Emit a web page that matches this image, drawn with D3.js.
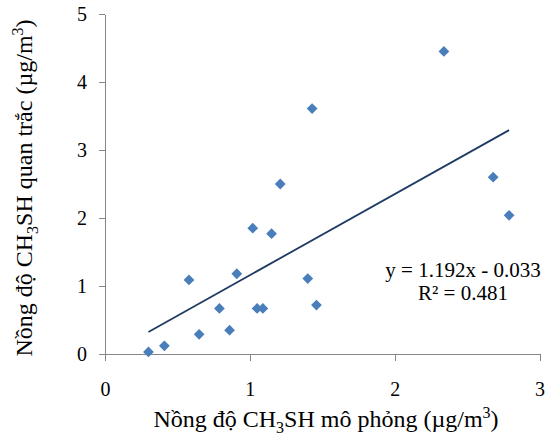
<!DOCTYPE html>
<meta charset="utf-8">
<style>
body { margin: 0; background: #fff; }
text { font-family: "Liberation Serif", "Times New Roman", serif; fill: #000; }
.axis path, .axis line { stroke: #868686; stroke-width: 1; shape-rendering: crispEdges; }
.point { fill: #4a7ebb; }
.trend { stroke: #1f3b64; stroke-width: 1.8; fill: none; }
</style>
<body>
<script src="https://cdn.jsdelivr.net/npm/d3@7"></script>
<script>
// simulated (x) vs observed (y) CH3SH concentration, ug/m3
var simulated = [0.30, 0.41, 0.65, 0.58, 0.79, 0.86, 0.91, 1.02, 1.05, 1.09, 1.15, 1.21, 1.40, 1.46, 2.79, 2.68, 1.43, 2.34];
var observed  = [0.03, 0.12, 0.29, 1.09, 0.67, 0.35, 1.18, 1.85, 0.67, 0.67, 1.77, 2.50, 1.11, 0.72, 2.04, 2.60, 3.61, 4.45];
var xTicks = [0, 1, 2, 3];
var yTicks = [0, 1, 2, 3, 4, 5];
var slope = 1.192, intercept = -0.033, r2 = 0.481;

var width = 545, height = 435;
var margin = {top: 14, right: 6, bottom: 81, left: 105};
var serif = '"Liberation Serif", "Times New Roman", serif';

var svg = d3.select("body").append("svg")
    .attr("width", width)
    .attr("height", height);

var x = d3.scaleLinear().domain([0, 3]).range([margin.left, 539.5]);
var y = d3.scaleLinear().domain([0, 5]).range([height - margin.bottom, margin.top]);

// y axis
svg.append("g")
    .attr("class", "axis")
    .attr("transform", "translate(" + margin.left + ",0)")
    .call(d3.axisLeft(y).tickValues(yTicks).tickFormat(d3.format("d"))
      .tickSize(6).tickSizeOuter(0).tickPadding(12))
    .style("font-family", serif)
    .style("font-size", "20px");

// x axis
svg.append("g")
    .attr("class", "axis")
    .attr("transform", "translate(0," + y(0) + ")")
    .call(d3.axisBottom(x).tickValues(xTicks).tickFormat(d3.format("d"))
      .tickSize(7).tickSizeOuter(0).tickPadding(21))
    .style("font-family", serif)
    .style("font-size", "20px");

// points (diamonds)
var diamond = d3.symbol().type(d3.symbolSquare).size(58);
svg.selectAll(".point")
    .data(simulated)
  .enter().append("path")
    .attr("class", "point")
    .attr("d", diamond)
    .attr("transform", function(d, i) {
      return "translate(" + x(d) + "," + y(observed[i]) + ") rotate(45)";
    });

// linear trendline over data range
var xr = d3.extent(simulated);
svg.append("line")
    .attr("class", "trend")
    .attr("x1", x(xr[0])).attr("y1", y(slope * xr[0] + intercept))
    .attr("x2", x(xr[1])).attr("y2", y(slope * xr[1] + intercept));

// equation
var eq = svg.append("text")
    .attr("x", 463)
    .attr("y", 277)
    .style("text-anchor", "middle")
    .style("font-size", "21px");
eq.append("tspan").attr("x", 463).text("y = " + slope + "x - " + Math.abs(intercept).toFixed(3));
eq.append("tspan").attr("x", 463).attr("dy", 23).text("R² = " + r2);

// x axis title
var xt = svg.append("text")
    .attr("x", 326)
    .attr("y", 427)
    .style("text-anchor", "middle")
    .style("font-size", "24px");
xt.append("tspan").text("Nồng độ CH");
xt.append("tspan").attr("dy", 6).style("font-size", "16px").text("3");
xt.append("tspan").attr("dy", -6).text("SH mô phỏng (µg/m");
xt.append("tspan").attr("dy", -9).style("font-size", "16px").text("3");
xt.append("tspan").attr("dy", 9).text(")");

// y axis title
var yt = svg.append("text")
    .attr("transform", "translate(32,188) rotate(-90)")
    .style("text-anchor", "middle")
    .style("font-size", "24px");
yt.append("tspan").text("Nồng độ CH");
yt.append("tspan").attr("dy", 6).style("font-size", "16px").text("3");
yt.append("tspan").attr("dy", -6).text("SH quan trắc (µg/m");
yt.append("tspan").attr("dy", -9).style("font-size", "16px").text("3");
yt.append("tspan").attr("dy", 9).text(")");
</script>
</body>
